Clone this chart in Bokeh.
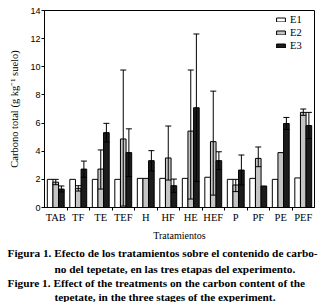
import numpy as np
from bokeh.plotting import figure
from bokeh.models import (ColumnDataSource, FixedTicker, Whisker, TeeHead, Title,
                          CustomJSTickFormatter)
from bokeh.transform import dodge
from bokeh.embed import file_html
from bokeh.resources import INLINE

# ---- data ----
cats = ["TAB", "TF", "TE", "TEF", "H", "HF", "HE", "HEF", "P", "PF", "PE", "PEF"]
e1 = [2.0, 2.0, 2.0, 2.0, 2.07, 2.07, 2.07, 2.15, 2.0, 2.07, 2.0, 2.1]
e2 = [1.8, 1.36, 2.73, 4.87, 2.07, 3.52, 5.43, 4.68, 1.6, 3.49, 3.9, 6.76]
e2_lo = [1.62, 1.17, 1.31, 0.1, np.nan, 1.95, 0.6, 0.88, 1.13, 2.9, np.nan, 6.55]
e2_hi = [2.0, 1.55, 4.09, 9.77, np.nan, 5.79, 9.77, 8.27, 2.0, 4.3, np.nan, 7.0]
e3 = [1.31, 2.73, 5.32, 3.9, 3.33, 1.55, 7.09, 3.33, 2.66, 1.53, 5.97, 5.82]
e3_lo = [1.1, 2.15, 4.66, 2.2, 2.6, 1.08, 1.85, 2.7, 1.6, np.nan, 5.55, 4.9]
e3_hi = [1.53, 3.3, 5.98, 5.59, 4.04, 2.02, 12.33, 3.96, 3.73, np.nan, 6.4, 6.76]
series = ["E1", "E2", "E3"]
y_ticks = [0, 2, 4, 6, 8, 10, 12, 14]
caption = [
    ("Figura 1. Efecto de los tratamientos sobre el contenido de carbo-", 7),
    ("no del tepetate, en las tres etapas del experimento.", 54),
    ("Figure 1. Effect of the treatments on the carbon content of the", 7),
    ("tepetate, in the three stages of the experiment.", 54),
]

SERIF = "Liberation Serif"
SANS = "Liberation Sans"

# ---- geometry ----
W, H = 322, 302
FL, FR, FT, FB = 44, 8, 10, 95
n = len(cats)
ymax = 14

centers = np.arange(n) + 0.5
src = ColumnDataSource(dict(x=centers, cat=cats, e1=e1, e2=e2, e3=e3))

p = figure(width=W, height=H, x_range=(0, n), y_range=(0, ymax),
           output_backend="svg", toolbar_location=None,
           min_border_left=FL, min_border_right=FR, min_border_top=FT,
           min_border_bottom=FB, background_fill_color="white",
           border_fill_color="white")
p.outline_line_color = "black"
p.outline_line_width = 1
p.outline_line_alpha = 1
p.xgrid.visible = False
p.ygrid.visible = False

bw = 0.25
colors = ["white", "#c4c4c4", "#1c1c1c"]
for i, (s, c) in enumerate(zip(series, colors)):
    off = (i - 1) * bw
    p.vbar(x=dodge("x", off, range=p.x_range), top=s.lower(), width=bw,
           source=src, fill_color=c, line_color="black", line_width=1,
           legend_label=s)

for off, lo, hi in [(0.0, e2_lo, e2_hi), (bw, e3_lo, e3_hi)]:
    keep = [k for k in range(n) if not np.isnan(lo[k])]
    ws = ColumnDataSource(dict(x=[centers[k] + off for k in keep],
                               lo=[lo[k] for k in keep],
                               hi=[hi[k] for k in keep]))
    w = Whisker(base="x", lower="lo", upper="hi", source=ws,
                line_color="black", line_width=1, level="overlay",
                upper_head=TeeHead(size=6, line_color="black", line_width=1),
                lower_head=TeeHead(size=6, line_color="black", line_width=1))
    p.add_layout(w)

# x axis: labels at group centres, ticks between groups
xa = p.xaxis[0]
xa.ticker = FixedTicker(ticks=list(centers), minor_ticks=list(np.arange(1, n)))
xa.formatter = CustomJSTickFormatter(args=dict(labels=cats),
                                     code="return labels[Math.round(tick - 0.5)] || '';")
xa.major_tick_out = 0
xa.major_tick_in = 0
xa.minor_tick_out = 3
xa.minor_tick_in = 0
xa.minor_tick_line_color = "black"
xa.axis_line_color = "black"
xa.major_label_standoff = 1
xa.major_label_text_font = SERIF
xa.major_label_text_font_size = "10.5px"
xa.major_label_text_color = "black"
xa.axis_label = "Tratamientos"
xa.axis_label_text_font = SERIF
xa.axis_label_text_font_size = "10px"
xa.axis_label_text_font_style = "normal"
xa.axis_label_text_color = "black"
xa.axis_label_standoff = 4

ya = p.yaxis[0]
ya.ticker = FixedTicker(ticks=y_ticks, minor_ticks=[])
ya.major_tick_out = 3
ya.major_tick_in = 0
ya.major_tick_line_color = "black"
ya.axis_line_color = "black"
ya.major_label_standoff = 1
ya.major_label_text_font = SANS
ya.major_label_text_font_size = "9px"
ya.major_label_text_color = "black"
ya.axis_label = "Carbono total (g kg\u207b\u00b9 suelo)"
ya.axis_label_text_font = SERIF
ya.axis_label_text_font_size = "10.5px"
ya.axis_label_text_font_style = "normal"
ya.axis_label_text_color = "black"
ya.axis_label_standoff = 7

leg = p.legend[0]
leg.location = "top_right"
leg.border_line_color = None
leg.background_fill_alpha = 0
leg.label_text_font = SERIF
leg.label_text_font_size = "10.5px"
leg.label_text_color = "black"
leg.glyph_width = 11
leg.glyph_height = 5
leg.label_height = 9
leg.spacing = 2
leg.padding = 2
leg.margin = 4
leg.label_standoff = 4

for k, (t, px) in enumerate(caption):
    p.add_layout(Title(text=t, align="left", offset=px - FL,
                       standoff=3 if k == 0 else 0,
                       text_font=SERIF, text_font_size="11.3px",
                       text_line_height=1.1,
                       text_font_style="bold", text_color="black"), "below")

open("out.html", "w").write(file_html(p, INLINE))
